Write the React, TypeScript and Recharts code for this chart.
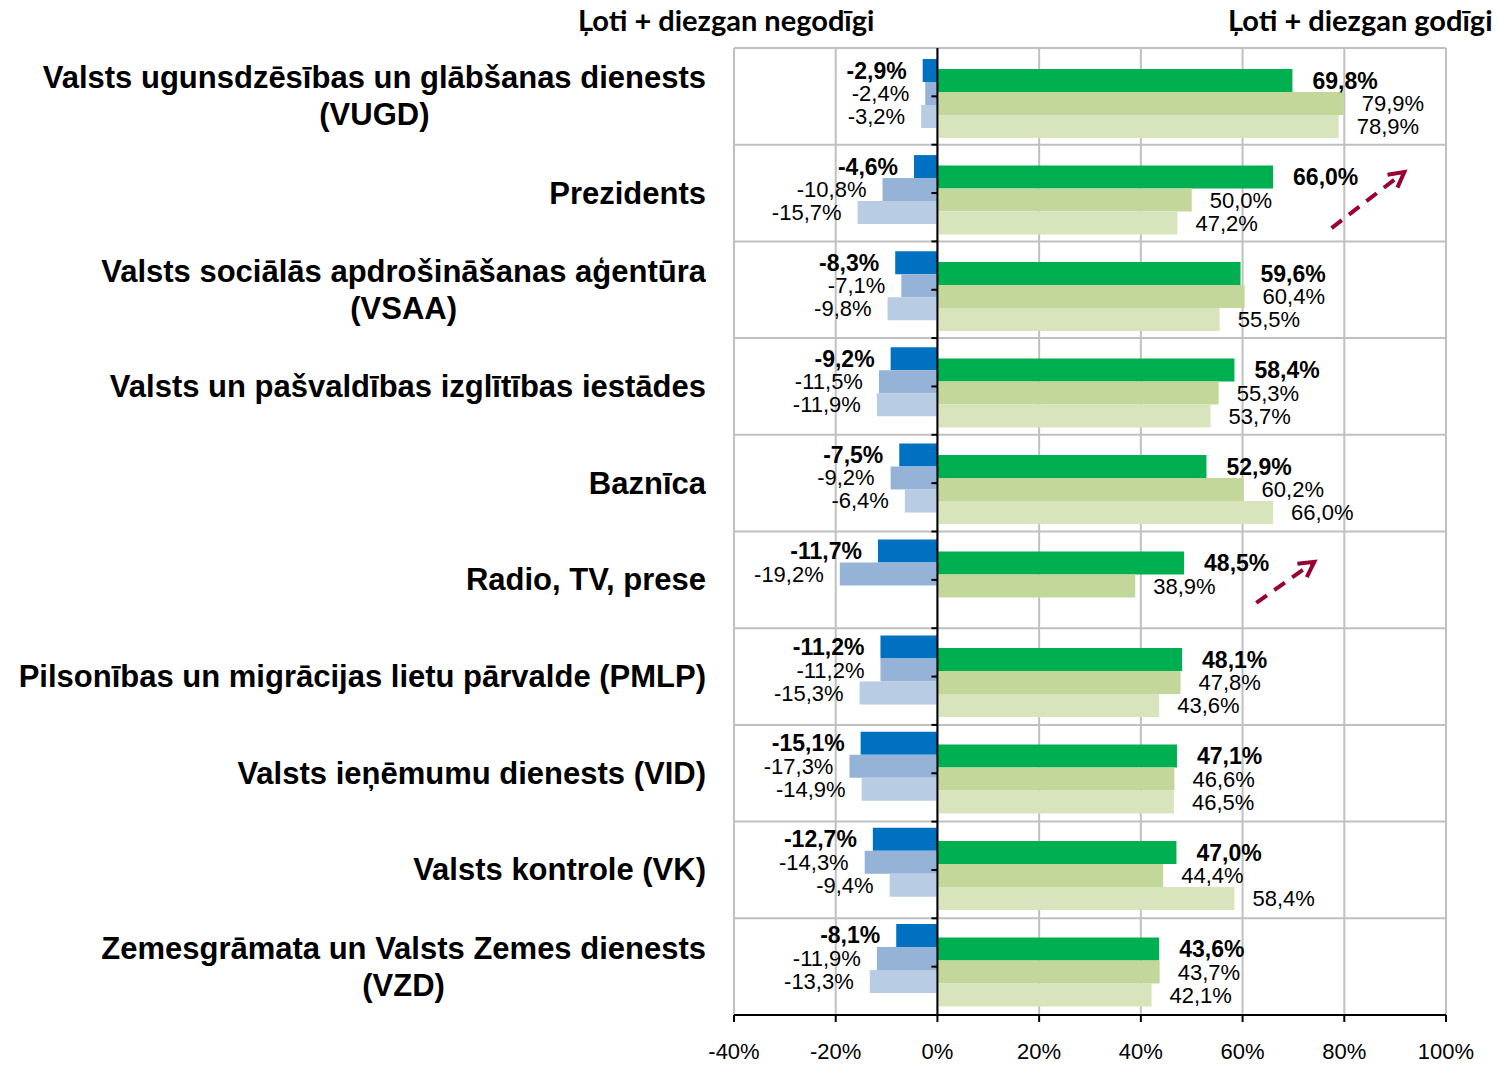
import {
  BarChart,
  Bar,
  XAxis,
  YAxis,
  CartesianGrid,
  ReferenceLine,
  LabelList,
} from 'recharts';

const categories = [
  'Valsts ugunsdzēsības un glābšanas dienests\n(VUGD)',
  'Prezidents',
  'Valsts sociālās apdrošināšanas aģentūra\n(VSAA)',
  'Valsts un pašvaldības izglītības iestādes',
  'Baznīca',
  'Radio, TV, prese',
  'Pilsonības un migrācijas lietu pārvalde (PMLP)',
  'Valsts ieņēmumu dienests (VID)',
  'Valsts kontrole (VK)',
  'Zemesgrāmata un Valsts Zemes dienests\n(VZD)',
];

// negatīvie vērtējumi (jaunākais, iepriekšējais, vecākais)
const negLatest = [-2.9, -4.6, -8.3, -9.2, -7.5, -11.7, -11.2, -15.1, -12.7, -8.1];
const negPrev = [-2.4, -10.8, -7.1, -11.5, -9.2, -19.2, -11.2, -17.3, -14.3, -11.9];
const negOld = [-3.2, -15.7, -9.8, -11.9, -6.4, null, -15.3, -14.9, -9.4, -13.3];

// pozitīvie vērtējumi
const posLatest = [69.8, 66.0, 59.6, 58.4, 52.9, 48.5, 48.1, 47.1, 47.0, 43.6];
const posPrev = [79.9, 50.0, 60.4, 55.3, 60.2, 38.9, 47.8, 46.6, 44.4, 43.7];
const posOld = [78.9, 47.2, 55.5, 53.7, 66.0, null, 43.6, 46.5, 58.4, 42.1];

const xTicks = [-40, -20, 0, 20, 40, 60, 80, 100];

// bultiņas pie kategorijām: x procentos, dy pikseļos no rindas vidus
const arrows = [
  { cat: 1, x1: 77.5, x2: 91.8, dy1: 35, dy2: -21 },
  { cat: 5, x1: 62.7, x2: 74.1, dy1: 23, dy2: -18 },
];

const data = categories.map((name, i) => ({
  name,
  n1: negLatest[i],
  n2: negPrev[i],
  n3: negOld[i],
  p1: posLatest[i],
  p2: posPrev[i],
  p3: posOld[i],
}));

const FONT = '"Liberation Sans", Arial, sans-serif';
const ROWS = categories.length;

const CategoryTick = ({ x, y, payload }: any) => {
  const lines = String(payload.value).split('\n');
  return (
    <foreignObject x={0} y={y - 60} width={x} height={120}>
      <div
        style={{
          width: '100%',
          height: 120,
          display: 'flex',
          alignItems: 'center',
          justifyContent: 'flex-end',
        }}
      >
        <div
          style={{
            textAlign: 'center',
            fontFamily: FONT,
            fontWeight: 'bold',
            fontSize: 31,
            lineHeight: '37px',
            color: '#000',
            whiteSpace: 'nowrap',
          }}
        >
          {lines.map((l, i) => (
            <div key={i}>{l}</div>
          ))}
        </div>
      </div>
    </foreignObject>
  );
};

const fmt = (v: number) => `${v.toFixed(1).replace('.', ',')}%`;

const valueLabel = (bold: boolean) => (props: any) => {
  const { x, y, width, height, value } = props;
  if (value == null) return null;
  const left = Math.min(x, x + width);
  const right = Math.max(x, x + width);
  const neg = value < 0;
  return (
    <text
      x={neg ? left - 16 : right + (bold ? 20 : 18)}
      y={y + height / 2}
      textAnchor={neg ? 'end' : 'start'}
      dominantBaseline="central"
      fontFamily={FONT}
      fontSize={bold ? 23 : 22}
      fontWeight={bold ? 'bold' : 'normal'}
      fill="#000"
    >
      {fmt(value)}
    </text>
  );
};

// nulles ass ar iedaļām ik pa pusrindai
const ZeroAxis = (p: any) => {
  const { x1, y1, y2 } = p;
  const step = (y2 - y1) / (ROWS * 2);
  return (
    <g>
      <line x1={x1} y1={y1} x2={x1} y2={y2} stroke="#000" strokeWidth={2} />
      {Array.from({ length: ROWS * 2 }, (_, k) => (
        <line key={k} x1={x1 - 6} x2={x1} y1={y1 + k * step} y2={y1 + k * step} stroke="#000" strokeWidth={2} />
      ))}
    </g>
  );
};

const makeArrow = (dy1: number, dy2: number) => (p: any) => {
  const x1 = p.x1;
  const x2 = p.x2;
  const y1 = p.y1 + dy1;
  const y2 = p.y2 + dy2;
  const a = Math.atan2(y2 - y1, x2 - x1);
  const L = 17;
  const s = 0.5;
  const h1 = [x2 - L * Math.cos(a - s), y2 - L * Math.sin(a - s)];
  const h2 = [x2 - L * Math.cos(a + s), y2 - L * Math.sin(a + s)];
  return (
    <g>
      <line x1={x1} y1={y1} x2={x2} y2={y2} stroke="#990033" strokeWidth={4} strokeDasharray="13 9" />
      <polyline
        points={`${h1[0]},${h1[1]} ${x2},${y2} ${h2[0]},${h2[1]}`}
        fill="none"
        stroke="#990033"
        strokeWidth={4}
      />
    </g>
  );
};

const headerStyle: React.CSSProperties = {
  position: 'absolute',
  top: 0,
  fontFamily: 'Lato, "Open Sans", sans-serif',
  fontWeight: 700,
  fontSize: 29,
  lineHeight: '40px',
  color: '#000',
  whiteSpace: 'nowrap',
};

export default function App() {
  return (
    <div style={{ position: 'absolute', left: 0, top: 0, width: 1497, height: 1065, background: '#fff' }}>
      <BarChart
        width={1497}
        height={1065}
        data={data}
        layout="vertical"
        barGap={0}
        margin={{ top: 48, right: 51, bottom: 0, left: 0 }}
      >
        <CartesianGrid
          stroke="#C0C0C0"
          strokeWidth={2}
          horizontalCoordinatesGenerator={({ offset }: any) =>
            Array.from({ length: ROWS + 1 }, (_, i) => offset.top + (i * offset.height) / ROWS)
          }
        />
        <XAxis
          type="number"
          domain={[-40, 100]}
          ticks={xTicks}
          height={50}
          tickFormatter={(v) => `${v}%`}
          axisLine={{ stroke: '#000', strokeWidth: 2 }}
          tickLine={{ stroke: '#000', strokeWidth: 2 }}
          tickSize={7}
          tickMargin={21}
          tick={{ fontSize: 22, fill: '#000', fontFamily: FONT }}
        />
        <YAxis
          yAxisId="labels"
          type="category"
          dataKey="name"
          width={734}
          tickSize={0}
          tickMargin={28}
          axisLine={false}
          tickLine={false}
          tick={<CategoryTick />}
          interval={0}
        />
        <YAxis yAxisId="neg" type="category" dataKey="name" hide padding={{ top: -3, bottom: 9 }} />
        <YAxis yAxisId="pos" type="category" dataKey="name" hide padding={{ top: 7, bottom: -5 }} />

        <Bar yAxisId="neg" dataKey="n1" fill="#0070C0" barSize={23} isAnimationActive={false}>
          <LabelList dataKey="n1" content={valueLabel(true)} />
        </Bar>
        <Bar yAxisId="neg" dataKey="n2" fill="#95B3D7" barSize={23} isAnimationActive={false}>
          <LabelList dataKey="n2" content={valueLabel(false)} />
        </Bar>
        <Bar yAxisId="neg" dataKey="n3" fill="#B8CCE4" barSize={23} isAnimationActive={false}>
          <LabelList dataKey="n3" content={valueLabel(false)} />
        </Bar>
        <Bar yAxisId="pos" dataKey="p1" fill="#00B050" barSize={23} isAnimationActive={false}>
          <LabelList dataKey="p1" content={valueLabel(true)} />
        </Bar>
        <Bar yAxisId="pos" dataKey="p2" fill="#C4D79B" barSize={23} isAnimationActive={false}>
          <LabelList dataKey="p2" content={valueLabel(false)} />
        </Bar>
        <Bar yAxisId="pos" dataKey="p3" fill="#D8E4BC" barSize={23} isAnimationActive={false}>
          <LabelList dataKey="p3" content={valueLabel(false)} />
        </Bar>

        <ReferenceLine yAxisId="labels" x={0} shape={ZeroAxis} />
        {arrows.map((a, i) => (
          <ReferenceLine
            key={`a${i}`}
            yAxisId="labels"
            segment={[
              { x: a.x1, y: categories[a.cat] },
              { x: a.x2, y: categories[a.cat] },
            ]}
            shape={makeArrow(a.dy1, a.dy2)}
          />
        ))}
      </BarChart>
      <div style={{ ...headerStyle, left: 578 }}>Ļoti + diezgan negodīgi</div>
      <div style={{ ...headerStyle, left: 1228 }}>Ļoti + diezgan godīgi</div>
    </div>
  );
}
